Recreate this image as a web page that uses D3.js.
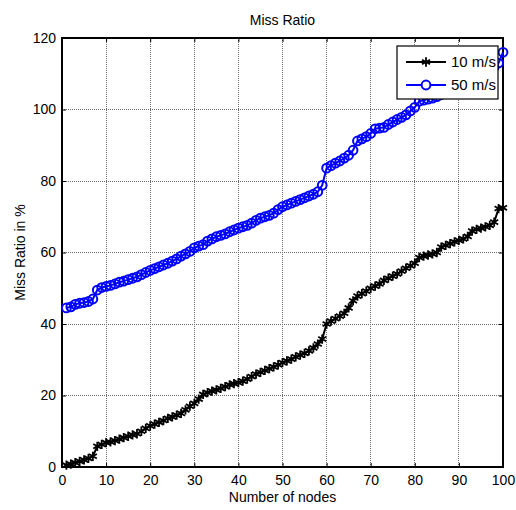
<!DOCTYPE html>
<html lang="en">
<head>
    <meta charset="UTF-8">
    <title>Miss Ratio</title>
    <script src="https://d3js.org/d3.v7.min.js"></script>
    <style>
        body {
            margin: 0;
            background: #fff;
            font-family: "Liberation Sans", Arial, sans-serif;
        }
        .tick text {
            font-size: 14px;
            fill: #000;
        }
        .grid line {
            stroke: #6e6e6e;
            stroke-dasharray: 1, 1;
            shape-rendering: crispEdges;
        }
    </style>
</head>
<body>
    <div id="chart"></div>

    <script>
        // Nodes 1..100
        const nodes = d3.range(1, 101);

        // 10 m/s (black, asterisk markers)
        const speed10 = [
            0.5, 0.8, 1.2, 1.6, 2.0, 2.4, 3.0, 5.8, 6.3, 6.8,
            7.0, 7.4, 7.8, 8.2, 8.6, 9.0, 9.3, 10.0, 10.8, 11.5,
            12.0, 12.5, 13.0, 13.6, 14.0, 14.5, 15.0, 16.0, 17.0, 17.8,
            19.0, 20.3, 20.8, 21.2, 21.6, 22.0, 22.5, 23.0, 23.3, 23.6,
            24.0, 24.6, 25.3, 26.0, 26.5, 27.0, 27.5, 28.0, 28.6, 29.2,
            29.7, 30.2, 30.8, 31.3, 31.8, 32.5, 33.3, 34.4, 35.8, 40.0,
            40.8, 41.5, 42.2, 43.0, 44.5, 46.5, 47.8, 48.5, 49.2, 50.0,
            50.6, 51.2, 52.2, 52.8, 53.4, 54.0, 54.8, 55.6, 56.3, 57.0,
            58.6, 59.0, 59.3, 59.6, 60.0, 61.5, 62.0, 62.5, 63.0, 63.4,
            63.8, 64.5, 66.0, 66.5, 66.8, 67.2, 67.6, 68.5, 72.3, 72.5
        ];

        // 50 m/s (blue, circle markers)
        const speed50 = [
            44.5, 44.8, 45.5, 45.8, 46.0, 46.3, 47.0, 49.5, 50.2, 50.5,
            50.8, 51.2, 51.7, 52.0, 52.4, 52.8, 53.2, 53.8, 54.4, 55.0,
            55.5, 56.0, 56.5, 57.0, 57.6, 58.2, 59.0, 59.6, 60.3, 61.3,
            61.8, 62.2, 63.2, 63.8, 64.4, 64.8, 65.2, 65.8, 66.3, 66.8,
            67.2, 67.6, 68.2, 69.0, 69.6, 70.0, 70.4, 71.0, 72.0, 72.8,
            73.3, 73.8, 74.3, 74.8, 75.3, 75.8, 76.3, 77.0, 78.8, 83.6,
            84.3, 85.0, 85.6, 86.4, 87.2, 88.6, 91.2, 91.8, 92.4, 93.3,
            94.6, 94.8, 95.0, 95.8, 96.5, 97.2, 97.8, 98.5, 99.6, 100.6,
            102.3, 102.6, 102.9, 103.2, 103.6, 104.2, 104.9, 105.3, 105.9, 106.6,
            107.0, 107.8, 108.6, 109.1, 109.9, 110.6, 111.1, 111.8, 113.0, 116.0
        ];

        const xTicks = [0, 10, 20, 30, 40, 50, 60, 70, 80, 90, 100];
        const yTicks = [0, 20, 40, 60, 80, 100, 120];
        const seriesNames = ["10 m/s", "50 m/s"];

        const margin = { top: 38, right: 13, bottom: 43, left: 62 },
            width = 516 - margin.left - margin.right,
            height = 510 - margin.top - margin.bottom;

        const svg = d3.select("#chart")
            .append("svg")
            .attr("width", 516)
            .attr("height", 510);

        const g = svg.append("g")
            .attr("transform", `translate(${margin.left},${margin.top})`);

        const x = d3.scaleLinear().domain([0, 100]).range([0, width]);
        const y = d3.scaleLinear().domain([0, 120]).range([height, 0]);

        // grid
        g.append("g").attr("class", "grid")
            .selectAll("line").data(xTicks.slice(1, -1)).enter().append("line")
            .attr("x1", d => x(d)).attr("x2", d => x(d))
            .attr("y1", 0).attr("y2", height);
        g.append("g").attr("class", "grid")
            .selectAll("line").data(yTicks.slice(1, -1)).enter().append("line")
            .attr("y1", d => y(d)).attr("y2", d => y(d))
            .attr("x1", 0).attr("x2", width);

        // axes (ticks inside, box on)
        const tk = 4;
        g.append("g")
            .attr("transform", `translate(0,${height})`)
            .call(d3.axisBottom(x).tickValues(xTicks).tickSize(-tk).tickPadding(8));
        g.append("g")
            .call(d3.axisLeft(y).tickValues(yTicks).tickSize(-tk).tickPadding(6));
        g.append("g")
            .call(d3.axisTop(x).tickValues(xTicks).tickSize(-tk).tickFormat(""));
        g.append("g")
            .attr("transform", `translate(${width},0)`)
            .call(d3.axisRight(y).tickValues(yTicks).tickSize(-tk).tickFormat(""));
        g.selectAll(".domain").remove();
        g.selectAll(".tick line").attr("stroke", "#000");

        g.append("rect")
            .attr("width", width).attr("height", height)
            .attr("fill", "none").attr("stroke", "#000").attr("stroke-width", 2);

        const line = d3.line().x((d, i) => x(nodes[i])).y(d => y(d));
        const star = d3.symbol().type(d3.symbolAsterisk).size(60);

        // 10 m/s
        g.append("path").datum(speed10)
            .attr("d", line).attr("fill", "none")
            .attr("stroke", "#000").attr("stroke-width", 2);
        g.selectAll(".m10").data(speed10).enter().append("path")
            .attr("class", "m10")
            .attr("d", star)
            .attr("transform", (d, i) => `translate(${x(nodes[i])},${y(d)})`)
            .attr("fill", "none").attr("stroke", "#000").attr("stroke-width", 1.8);

        // 50 m/s
        g.append("path").datum(speed50)
            .attr("d", line).attr("fill", "none")
            .attr("stroke", "#0000ff").attr("stroke-width", 2);
        g.selectAll(".m50").data(speed50).enter().append("circle")
            .attr("class", "m50")
            .attr("cx", (d, i) => x(nodes[i]))
            .attr("cy", d => y(d))
            .attr("r", 4.4)
            .attr("fill", "none").attr("stroke", "#0000ff").attr("stroke-width", 2);

        // legend
        const lg = svg.append("g").attr("transform", "translate(397,46)");
        lg.append("rect")
            .attr("width", 101).attr("height", 53)
            .attr("fill", "#fff").attr("stroke", "#000").attr("stroke-width", 1.2);
        const colors = ["#000", "#0000ff"];
        seriesNames.forEach((name, i) => {
            const cy = 16 + i * 23;
            lg.append("line")
                .attr("x1", 9).attr("x2", 49).attr("y1", cy).attr("y2", cy)
                .attr("stroke", colors[i]).attr("stroke-width", 2);
            if (i === 0) {
                lg.append("path").attr("d", star)
                    .attr("transform", `translate(29,${cy})`)
                    .attr("fill", "none").attr("stroke", "#000").attr("stroke-width", 1.8);
            } else {
                lg.append("circle").attr("cx", 29).attr("cy", cy).attr("r", 4.4)
                    .attr("fill", "#fff").attr("stroke", colors[i]).attr("stroke-width", 2);
            }
            lg.append("text")
                .attr("x", 54).attr("y", cy + 5)
                .style("font-size", "15px")
                .text(name);
        });

        // title and axis labels
        svg.append("text")
            .attr("x", margin.left + width / 2).attr("y", 25)
            .attr("text-anchor", "middle")
            .style("font-size", "14px")
            .text("Miss Ratio");
        svg.append("text")
            .attr("x", margin.left + width / 2).attr("y", 502)
            .attr("text-anchor", "middle")
            .style("font-size", "14px")
            .text("Number of nodes");
        svg.append("text")
            .attr("transform", `translate(25,${margin.top + height / 2}) rotate(-90)`)
            .attr("text-anchor", "middle")
            .style("font-size", "14px")
            .text("Miss Ratio in %");
    </script>
</body>
</html>
